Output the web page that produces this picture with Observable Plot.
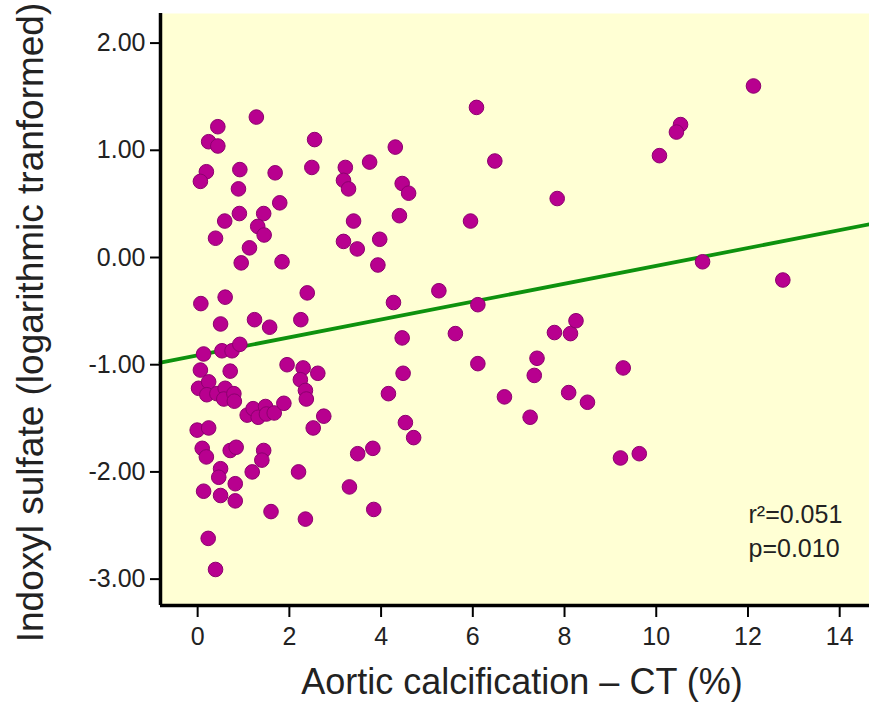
<!DOCTYPE html>
<html>
<head>
<meta charset="utf-8">
<script src="https://cdn.jsdelivr.net/npm/d3@7"></script>
<script src="https://cdn.jsdelivr.net/npm/@observablehq/plot@0.6"></script>
<style>
  html, body { margin: 0; padding: 0; background: #ffffff; }
  #chart svg { display: block; }
</style>
</head>
<body>
<div id="chart"></div>
<script>
// Aortic calcification – CT (%)
const calcification = [
  1.28, 0.44, 0.24, 0.44, 2.55, 4.31, 0.19, 0.06, 0.92, 1.69,
  2.49, 3.22, 3.18, 3.29, 3.75, 4.46, 4.60, 0.89, 1.79, 0.91,
  0.59, 1.44, 1.31, 1.45, 0.39, 1.13, 0.95, 1.84, 3.40, 3.18,
  3.48, 3.97, 3.93, 4.40, 0.07, 0.60, 2.39, 4.27, 5.26, 0.50,
  1.24, 1.57, 2.25, 4.46, 0.13, 0.53, 0.75, 0.92, 0.06, 0.71,
  1.95, 2.30, 2.24, 2.62, 4.48, 0.02, 0.24, 0.20, 0.42, 0.60,
  0.57, 0.79, 0.80, 2.35, 2.37, 4.16, 1.08, 1.21, 1.32, 1.48,
  1.50, 1.67, 1.88, 2.75, 2.52, 4.53, 4.71, -0.01, 0.24, 0.10,
  0.19, 0.71, 0.84, 1.44, 1.40, 1.19, 0.50, 0.46, 0.82, 2.20,
  3.49, 3.82, 3.31, 0.13, 0.50, 0.82, 1.60, 2.35, 3.84, 0.23,
  0.39, 6.08, 6.48, 7.84, 5.95, 12.12, 10.53, 10.44, 10.07, 11.01,
  12.76, 6.11, 5.62, 7.78, 8.13, 8.25, 6.11, 7.40, 7.34, 6.69,
  7.25, 8.09, 8.50, 9.28, 9.22, 9.63
];
// Indoxyl sulfate (logarithmic transformed)
const indoxylSulfate = [
  1.31, 1.22, 1.08, 1.04, 1.10, 1.03, 0.80, 0.71, 0.82, 0.79,
  0.84, 0.84, 0.72, 0.64, 0.89, 0.69, 0.60, 0.64, 0.51, 0.41,
  0.34, 0.41, 0.29, 0.21, 0.18, 0.09, -0.05, -0.04, 0.34, 0.15,
  0.08, 0.17, -0.07, 0.39, -0.43, -0.37, -0.33, -0.42, -0.31, -0.62,
  -0.58, -0.65, -0.58, -0.75, -0.90, -0.87, -0.87, -0.81, -1.05, -1.06,
  -1.00, -1.03, -1.14, -1.08, -1.08, -1.22, -1.16, -1.28, -1.27, -1.22,
  -1.32, -1.27, -1.34, -1.24, -1.32, -1.27, -1.47, -1.41, -1.49, -1.39,
  -1.46, -1.45, -1.36, -1.48, -1.59, -1.54, -1.68, -1.61, -1.59, -1.78,
  -1.86, -1.80, -1.77, -1.80, -1.89, -2.00, -1.97, -2.05, -2.11, -2.00,
  -1.83, -1.78, -2.14, -2.18, -2.22, -2.27, -2.37, -2.44, -2.35, -2.62,
  -2.91, 1.40, 0.90, 0.55, 0.34, 1.60, 1.24, 1.17, 0.95, -0.04,
  -0.21, -0.44, -0.71, -0.70, -0.71, -0.59, -0.99, -0.94, -1.10, -1.30,
  -1.49, -1.26, -1.35, -1.03, -1.87, -1.83
];

const xTicks = [0, 2, 4, 6, 8, 10, 12, 14];
const yTicks = [-3, -2, -1, 0, 1, 2];
const xDomain = [-0.81, 14.65];
const yDomain = [-3.246, 2.276];

// regression line reported in the figure
const fitIntercept = -0.912;
const fitSlope = 0.0834;
const statsText = "r\u00B2=0.051\np=0.010";

const xTitle = "Aortic calcification \u2013 CT (%)";
const yTitle = "Indoxyl sulfate (logarithmic tranformed)";

const points = calcification.map((x, i) => ({x, y: indoxylSulfate[i]}));
const fitLine = xDomain.map(x => ({x, y: fitIntercept + fitSlope * x}));

const chart = Plot.plot({
  width: 869,
  height: 703,
  marginLeft: 160,
  marginRight: 0,
  marginTop: 13,
  marginBottom: 98,
  style: {fontFamily: "'Liberation Sans', Arial, sans-serif", background: "#ffffff", color: "#222"},
  x: {domain: xDomain, ticks: xTicks, label: null},
  y: {domain: yDomain, ticks: yTicks, label: null},
  marks: [
    Plot.frame({fill: "#ffffd4", stroke: null}),
    Plot.line(fitLine, {x: "x", y: "y", stroke: "#0e920e", strokeWidth: 3.8}),
    Plot.dot(points, {x: "x", y: "y", r: 7.3, fill: "#b8008f", stroke: "#8c006e", strokeWidth: 1}),
    Plot.ruleX([xDomain[0]], {stroke: "#000", strokeWidth: 3.5}),
    Plot.ruleY([yDomain[0]], {stroke: "#000", strokeWidth: 3.5}),
    Plot.axisX({ticks: xTicks, tickSize: 12, tickPadding: 10, fontSize: 25, strokeWidth: 2, stroke: "#000", fill: "#222", label: null}),
    Plot.axisY({ticks: yTicks, tickSize: 10, tickPadding: 5, fontSize: 25, strokeWidth: 2, stroke: "#000", fill: "#222", tickFormat: d => d.toFixed(2), label: null}),
    Plot.text([xTitle], {frameAnchor: "bottom", textAnchor: "middle", dx: 7, dy: 77, fontSize: 36, fill: "#222", lineAnchor: "middle"}),
    Plot.text([yTitle], {frameAnchor: "left", textAnchor: "middle", dx: -129, dy: 13, rotate: -90, fontSize: 37, fill: "#222", lineAnchor: "middle"}),
    Plot.text([statsText], {frameAnchor: "bottom-right", textAnchor: "start", lineAnchor: "middle", dx: -121, dy: -76, fontSize: 25, lineHeight: 1.35, fill: "#222"})
  ]
});
document.getElementById("chart").appendChild(chart);
</script>
</body>
</html>
